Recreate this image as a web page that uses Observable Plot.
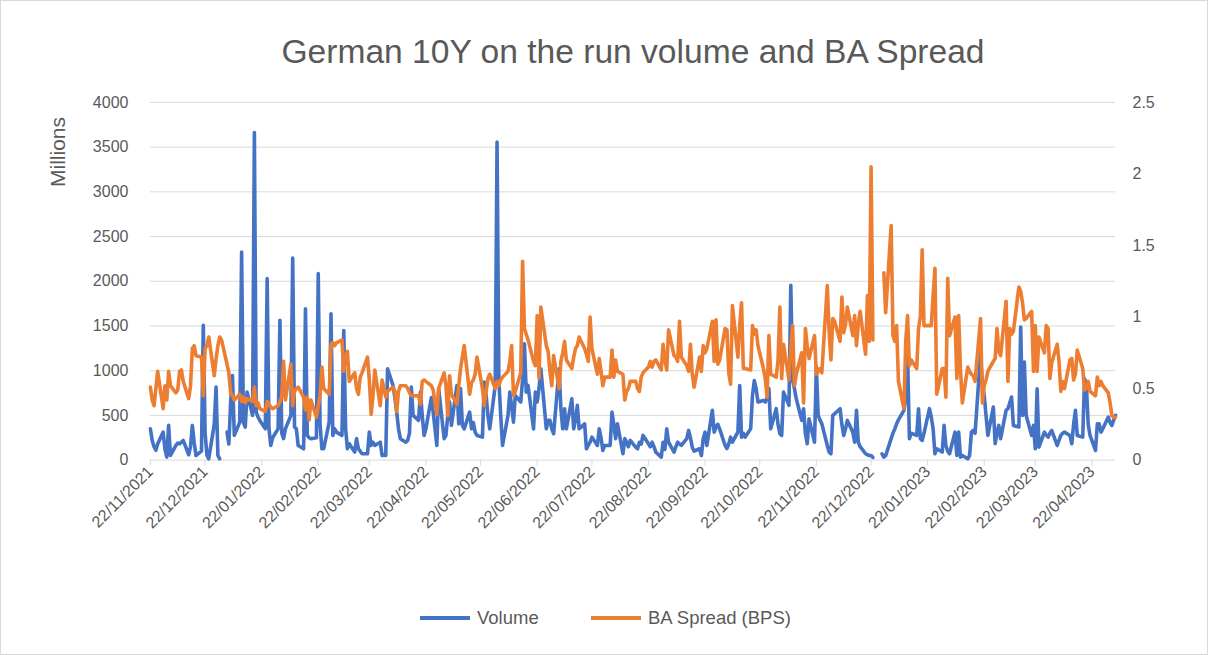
<!DOCTYPE html>
<html><head><meta charset="utf-8">
<script src="https://cdn.jsdelivr.net/npm/d3@7"></script>
<script src="https://cdn.jsdelivr.net/npm/@observablehq/plot@0.6"></script>
<style>
body{margin:0;background:#fff;font-family:"Liberation Sans",Arial,sans-serif;}
#chart{position:relative;width:1208px;height:655px;box-sizing:border-box;border:1px solid #d9d9d9;overflow:hidden;color:#595959;background:#fff}
#title{position:absolute;left:58px;right:0;top:31px;text-align:center;font-size:33.6px;line-height:40px;white-space:nowrap}
#plot{position:absolute;left:-1px;top:-1px}
#ylabel{position:absolute;left:57px;top:151px;transform:translate(-50%,-50%) rotate(-90deg);font-size:21px;white-space:nowrap}
.key{position:absolute;top:605px;display:flex;align-items:center;font-size:18.5px;line-height:24px;white-space:nowrap}
.swatch{width:50px;height:3.6px;margin-right:7px}
</style></head><body>
<div id="chart">
  <div id="plot"></div>
  <div id="title">German 10Y on the run volume and BA Spread</div>
  <div id="ylabel">Millions</div>
  <div class="key" style="left:419px"><div class="swatch" style="background:#4472C4"></div><span>Volume</span></div>
  <div class="key" style="left:590px"><div class="swatch" style="background:#ED7D31"></div><span>BA Spread (BPS)</span></div>
</div>
<script>
// First business day of the series (one value per business day, Mon-Fri)
const startDate = "2021-11-22";
const endDate = "2023-05-05";

// Volume (millions), one row per week Mon..Fri
const volume = [
  350, 220, 150, 110, 180,
  313, 120, 34, 388, 52,
  164, 190, 183, 200, 220,
  60, 150, 388, 200, 52,
  100, 1507, 300, 52, 15,
  400, 817, 52, 15, null,
  313, 180, 650, 947, 276,
  425, 2327, 420, 370, 760,
  500, 3663, 537, 481, 444,
  350, 2029, 350, 164, 250,
  350, 1563, 300, 240, 350,
  500, 2260, 370, 350, 164,
  127, 1693, 276, 250, 240,
  250, 2085, 400, 127, 127,
  425, 1637, 276, 350, 313,
  276, 1450, 350, 127, 183,
  90, 240, 127, 100, 71,
  71, 313, 164, 200, 164,
  200, 52, 60, 52, 1022,
  835, 700, 537, 350, 240,
  200, 220, 300, 817, 500,
  444, 760, 500, 276, 350,
  700, 537, 350, 164, 800,
  240, 276, 500, 650, 388,
  835, 406, 800, 388, 350,
  537, 350, 420, 313, 276,
  257, 873, 724, 500, 350,
  835, 3558, 900, 500, 164,
  500, 760, 600, 425, 724,
  650, 900, 1300, 760, 835,
  350, 760, 650, 800, 1022,
  350, 444, 444, 350, 295,
  1022, 575, 350, 575, 350,
  686, 350, 450, 612, 350,
  406, 127, 164, 200, 257,
  164, 350, 250, 108, 164,
  164, 537, 400, 240, 406,
  71, 240, 200, 150, 220,
  145, 127, 200, 180, 276,
  183, 150, 200, 150, 90,
  34, 200, 120, 350, 200,
  90, 150, 200, 180, 164,
  240, 332, 250, 145, 100,
  127, 52, 240, 313, 164,
  556, 313, 370, 400, 350,
  164, 130, 183, 257, 200,
  313, 835, 257, 300, 257,
  350, 724, 890, 800, 650,
  667, 650, 700, 800, 350,
  575, 400, 295, 276, 760,
  612, 1955, 900, 800, 686,
  444, 575, 300, 183, 462,
  200, 1040, 500, 450, 406,
  164, 90, 71, 500, 518,
  575, 400, 276, 350, 444,
  313, 200, 556, 200, 150,
  71, 60, 52, 52, 30,
  null, null, 71, 34, 50,
  240, 300, 350, 406, 450,
  556, 700, 1171, 240, 300,
  276, 575, 240, 220, 300,
  575, 480, 350, 71, 127,
  90, 388, 164, 100, 71,
  313, 52, 313, 34, 52,
  15, 52, 313, 332, 300,
  1190, 835, 724, 500, 276,
  593, 183, 300, 388, 240,
  556, 575, 640, 705, 388,
  370, 1488, 500, 1097, 500,
  276, 388, 127, 797, 145,
  313, 280, 257, 300, 332,
  164, 220, 276, 300, 313,
  276, 183, 400, 556, 276,
  257, 910, 835, 400, 276,
  108, 406, 406, 313, 350,
  481, 420, 388, 450, 500
];

// BA spread (bps), one row per week Mon..Fri
const spread = [
  0.51, 0.42, 0.38, 0.50, 0.62,
  0.36, 0.52, 0.42, 0.62, 0.52,
  0.47, 0.49, 0.62, 0.63, 0.55,
  0.43, 0.52, 0.78, 0.80, 0.73,
  0.72, 0.45, 0.78, 0.80, 0.86,
  0.59, 0.71, 0.80, 0.86, 0.84,
  0.67, 0.61, 0.47, 0.45, 0.42,
  0.46, 0.41, 0.44, 0.40, 0.43,
  0.41, 0.51, 0.38, 0.40, 0.36,
  0.34, 0.41, 0.39, 0.37, 0.36,
  0.38, 0.41, 0.44, 0.69, 0.42,
  0.67, 0.38, 0.48, 0.50, 0.51,
  0.44, 0.35, 0.44, 0.28, 0.42,
  0.30, 0.38, 0.45, 0.65, 0.50,
  0.46, 0.81, 0.82, 0.80, 0.82,
  0.84, 0.62, 0.72, 0.76, 0.55,
  0.61, 0.50, 0.46, 0.58, 0.61,
  0.72, 0.56, 0.32, 0.45, 0.63,
  0.38, 0.56, 0.50, 0.44, 0.48,
  0.51, 0.48, 0.34, 0.48, 0.52,
  0.52, 0.50, 0.47, 0.45, 0.45,
  0.45, 0.39, 0.55, 0.56, 0.55,
  0.52, 0.49, 0.40, 0.32, 0.50,
  0.61, 0.52, 0.31, 0.59, 0.46,
  0.39, 0.52, 0.64, 0.72, 0.80,
  0.46, 0.54, 0.56, 0.60, 0.72,
  0.50, 0.38, 0.48, 0.57, 0.60,
  0.50, 0.55, 0.52, 0.56, 0.58,
  0.62, 0.69, 0.80, 0.45, 0.48,
  0.61, 1.39, 0.92, 0.88, 0.84,
  0.69, 0.66, 1.01, 0.57, 1.07,
  0.80, 0.76, 0.62, 0.52, 0.73,
  0.50, 0.69, 0.75, 0.83, 0.70,
  0.64, 0.72, 0.78, 0.80, 0.86,
  0.78, 0.74, 0.69, 1.00, 0.78,
  0.60, 0.71, 0.62, 0.52, 0.58,
  0.58, 0.77, 0.58, 0.70, 0.62,
  0.60, 0.42, 0.48, 0.50, 0.55,
  0.55, 0.50, 0.48, 0.58, 0.61,
  0.65, 0.69, 0.65, 0.69, 0.70,
  0.63, 0.81, 0.70, 0.63, 0.91,
  0.73, 0.72, 0.69, 0.97, 0.72,
  0.66, 0.62, 0.81, 0.60, 0.51,
  0.72, 0.62, 0.80, 0.75, 0.78,
  0.97, 0.69, 0.98, 0.67, 0.70,
  0.92, 0.91, 0.61, 0.53, 1.08,
  0.72, 0.94, 1.10, 0.64, 0.64,
  0.63, 0.94, 0.88, 0.91, 0.80,
  0.64, 0.57, 0.44, 0.87, 0.60,
  0.58, 0.70, 1.07, 0.57, 0.81,
  0.56, 0.79, 0.94, 0.52, 0.60,
  0.75, 0.40, 0.92, 0.80, 0.71,
  0.87, 0.60, 0.62, 0.64, 0.61,
  1.22, 0.90, 0.70, 0.99, 0.97,
  0.83, 1.14, 0.89, 0.95, 1.07,
  0.87, 1.01, 0.80, 0.95, 1.04,
  0.74, 1.15, 0.83, 2.05, 0.84,
  null, null, null, 1.31, 1.03,
  1.64, 0.87, 0.83, 0.94, 0.55,
  0.36, 0.83, 1.01, 0.66, 0.70,
  0.64, 0.92, 1.00, 1.47, 0.94,
  0.94, 0.94, 1.15, 1.34, 0.46,
  0.64, 0.64, 0.44, 1.27, 0.87,
  1.00, 0.57, 1.01, 0.63, 0.40,
  0.65, 0.62, 0.60, 0.59, 0.55,
  0.99, 0.40, 0.52, 0.56, 0.62,
  0.69, 0.71, 0.92, 0.76, 0.73,
  1.11, 0.55, 0.92, 0.88, 0.90,
  1.21, 1.18, 1.10, 0.98, 0.99,
  1.04, 0.62, 0.94, 0.62, 0.86,
  0.75, 0.94, 0.92, 0.57, 0.68,
  0.81, 0.69, 0.48, 0.55, 0.50,
  0.70, 0.71, 0.56, 0.60, 0.77,
  0.64, 0.49, 0.50, 0.55, 0.48,
  0.45, 0.58, 0.52, 0.55, 0.52,
  0.47, 0.40, 0.31, 0.30, 0.30
];

const tickDates = [
  "2021-11-22","2021-12-22","2022-01-22","2022-02-22","2022-03-22","2022-04-22",
  "2022-05-22","2022-06-22","2022-07-22","2022-08-22","2022-09-22","2022-10-22",
  "2022-11-22","2022-12-22","2023-01-22","2023-02-22","2023-03-22","2023-04-22"
];
const volumeTicks = [0, 500, 1000, 1500, 2000, 2500, 3000, 3500, 4000];
const spreadTicks = [0, 0.5, 1, 1.5, 2, 2.5];
const spreadMax = 2.5, volumeMax = 4000;
const k = volumeMax / spreadMax;

// Build table: one row per business day
const rows = [];
{
  const d = new Date(startDate + "T00:00:00Z");
  for (let i = 0; i < volume.length; i++) {
    while (d.getUTCDay() === 0 || d.getUTCDay() === 6) d.setUTCDate(d.getUTCDate() + 1);
    rows.push({date: new Date(d), volume: volume[i], spread: spread[i]});
    d.setUTCDate(d.getUTCDate() + 1);
  }
}
const parse = s => new Date(s + "T00:00:00Z");

const chart = Plot.plot({
  width: 1208,
  height: 560,
  marginTop: 102,
  marginBottom: 100,
  marginLeft: 150,
  marginRight: 92,
  style: {fontSize: "16px", fontFamily: "'Liberation Sans', Arial, sans-serif", color: "#595959", background: "transparent", overflow: "visible"},
  x: {type: "utc", domain: [parse(startDate), parse(endDate)]},
  y: {domain: [0, volumeMax]},
  marks: [
    Plot.gridY(volumeTicks, {stroke: "#d9d9d9", strokeOpacity: 1, strokeWidth: 1}),
    Plot.axisX(tickDates.map(parse), {
      tickFormat: d3.utcFormat("%d/%m/%Y"), tickRotate: -45, tickSize: 6, tickPadding: 3,
      stroke: "#d9d9d9", strokeOpacity: 1, fill: "#595959", label: null
    }),
    Plot.axisY(volumeTicks, {anchor: "left", tickSize: 0, tickPadding: 22, tickFormat: d => String(d), label: null, fill: "#595959"}),
    Plot.axisY(spreadTicks.map(v => v * k), {anchor: "right", tickSize: 0, tickPadding: 17, tickFormat: d => String(d / k), label: null, fill: "#595959"}),
    Plot.lineY(rows, {x: "date", y: "volume", stroke: "#4472C4", strokeWidth: 3.6, strokeLinejoin: "round", strokeLinecap: "round"}),
    Plot.lineY(rows, {x: "date", y: d => d.spread == null ? NaN : d.spread * k, stroke: "#ED7D31", strokeWidth: 3.6, strokeLinejoin: "round", strokeLinecap: "round"})
  ]
});
document.getElementById("plot").appendChild(chart);
</script>
</body></html>
